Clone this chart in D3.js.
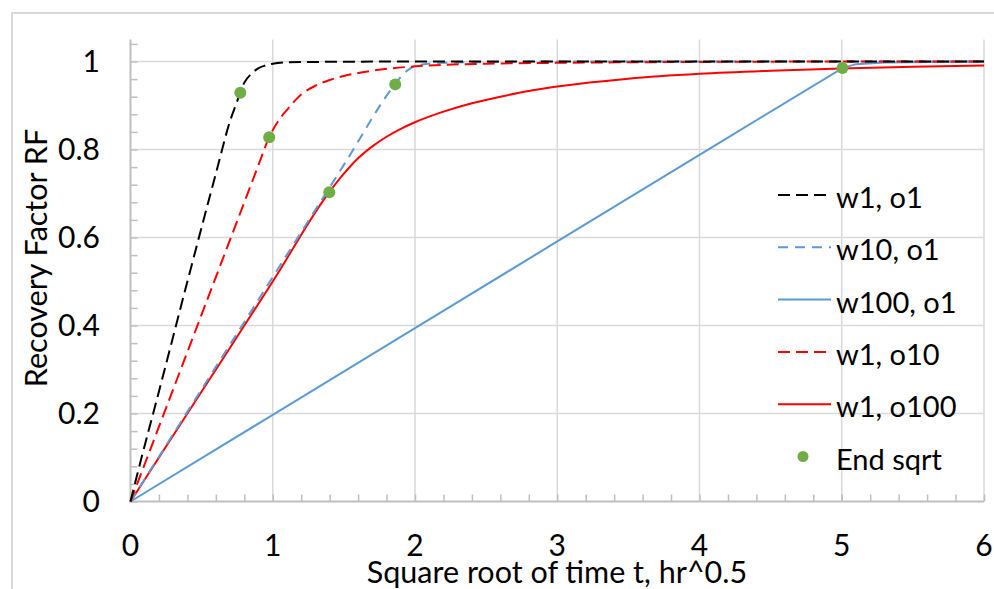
<!DOCTYPE html>
<html><head><meta charset="utf-8">
<script src="https://cdn.jsdelivr.net/npm/d3@7"></script>
<style>
html,body{margin:0;padding:0;background:#fff;}
text{font-family:Lato,"Open Sans",sans-serif;fill:#000;}
</style></head>
<body>
<svg id="chart" width="994" height="589"></svg>
<script>
// ---- data ----
const seriesNames = ["w1, o1", "w10, o1", "w100, o1", "w1, o10", "w1, o100"];
const w1o1 = [[0,0],[0.05,0.065],[0.2,0.25],[0.4,0.5],[0.6,0.745],[0.7,0.865],[0.75,0.91],[0.77,0.929],[0.8,0.952],[0.85,0.972],[0.9,0.985],[0.95,0.991],[1.0,0.995],[1.1,0.998],[1.3,0.999],[2,1],[3,1],[4,1],[5,1],[6,1]];
const w10o1 = [[0,0],[0.5,0.255],[1,0.51],[1.5,0.765],[1.861,0.949],[1.92,0.972],[1.97,0.985],[2.05,0.993],[2.2,0.997],[2.6,0.999],[3,1],[4,1],[5,1],[6,1]];
const w100o1 = [[0,0],[1,0.197],[2,0.394],[3,0.591],[4,0.788],[5.005,0.985],[5.1,0.994],[5.3,0.998],[6,1]];
const w1o10 = [[0,0],[0.2,0.17],[0.4,0.34],[0.6,0.51],[0.8,0.68],[0.9,0.765],[0.975,0.828],[1.05,0.87],[1.1,0.89],[1.2,0.925],[1.3,0.945],[1.4,0.958],[1.5,0.967],[1.7,0.979],[2.0,0.989],[2.5,0.995],[3,0.997],[4,0.999],[5,1],[6,1]];
const w1o100 = [[0,0],[0.5,0.25],[1,0.5],[1.397,0.703],[1.5,0.745],[1.6,0.78],[1.7,0.807],[1.8,0.829],[1.9,0.847],[2.0,0.862],[2.2,0.886],[2.4,0.905],[2.6,0.92],[2.8,0.933],[3.0,0.943],[3.5,0.961],[4.0,0.972],[4.5,0.979],[5.0,0.984],[5.5,0.988],[6.0,0.991]];
const endSqrtX = [0.772, 0.975, 1.397, 1.861, 5.005];
const endSqrtY = [0.929, 0.828, 0.703, 0.948, 0.985];
const xTicks = [0,1,2,3,4,5,6];
const yTicks = [0,0.2,0.4,0.6,0.8,1];
const xTitle = "Square root of time t, hr^0.5";
const yTitle = "Recovery Factor RF";

// ---- layout ----
const svg = d3.select("#chart");
const L = 130.5, R = 984, T = 39.5, B = 501.5;
const x = d3.scaleLinear().domain([0,6]).range([L,R]);
const y = d3.scaleLinear().domain([0,1.05]).range([B,T]);

// outer chart border
svg.append("rect").attr("x",12).attr("y",13).attr("width",1200).attr("height",800)
  .attr("fill","none").attr("stroke","#d9d9d9").attr("stroke-width",2);

// gridlines
const g = svg.append("g");
g.selectAll(".hg").data(yTicks.filter(d=>d>0)).join("line")
  .attr("x1",L).attr("x2",R).attr("y1",d=>y(d)).attr("y2",d=>y(d))
  .attr("stroke","#d9d9d9").attr("stroke-width",1.5);
g.selectAll(".vg").data(xTicks.filter(d=>d>0)).join("line")
  .attr("y1",T).attr("y2",B).attr("x1",d=>x(d)).attr("x2",d=>x(d))
  .attr("stroke","#d9d9d9").attr("stroke-width",1.5);

// minor ticks via d3 axes
const yMinor = d3.range(0,1.0601,0.04);
const xMinor = d3.range(0,6.001,0.2);
const yAxis = svg.append("g").attr("transform",`translate(${L},0)`)
  .call(d3.axisRight(y).tickValues(yMinor).tickSize(7).tickFormat(""));
const xAxis = svg.append("g").attr("transform",`translate(0,${B})`)
  .call(d3.axisTop(x).tickValues(xMinor).tickSize(7).tickFormat(""));
[yAxis,xAxis].forEach(a=>{
  a.selectAll("line").attr("stroke","#bfbfbf").attr("stroke-width",1.5);
  a.select(".domain").remove();
});
svg.append("line").attr("x1",L).attr("x2",L).attr("y1",T).attr("y2",B+1)
  .attr("stroke","#bfbfbf").attr("stroke-width",2);
svg.append("line").attr("x1",L-1).attr("x2",R).attr("y1",B).attr("y2",B)
  .attr("stroke","#bfbfbf").attr("stroke-width",2);

// tick labels
svg.append("g").selectAll("text").data(yTicks).join("text")
  .attr("x",100).attr("y",d=>y(d)).attr("dy","0.35em").attr("text-anchor","end")
  .attr("font-size",30).text(d=>d3.format("~g")(d));
svg.append("g").selectAll("text").data(xTicks).join("text")
  .attr("x",d=>x(d)).attr("y",545).attr("dy","0.35em").attr("text-anchor","middle")
  .attr("font-size",30).text(d=>d);

// titles
svg.append("text").attr("x",557).attr("y",583).attr("text-anchor","middle")
  .attr("font-size",30.5).text(xTitle);
svg.append("text").attr("transform","translate(47,258) rotate(-90)").attr("text-anchor","middle")
  .attr("font-size",30.5).text(yTitle);

// series
const styles = [
  {data:w1o1,  color:"#000000", dash:"12,6", w:2, curve:d3.curveMonotoneX},
  {data:w10o1, color:"#5b9bd5", dash:"10,7", w:2, curve:d3.curveMonotoneX},
  {data:w100o1,color:"#5b9bd5", dash:null,   w:2, curve:d3.curveLinear},
  {data:w1o10, color:"#ff0000", dash:"12,6", w:2, curve:d3.curveMonotoneX},
  {data:w1o100,color:"#ff0000", dash:null,   w:2, curve:d3.curveMonotoneX}
];
const plot = svg.append("g");
// draw order: solids first then dashed on top
[2,4,1,3,0].forEach(i=>{
  const s = styles[i];
  const line = d3.line().x(d=>x(d[0])).y(d=>y(d[1])).curve(s.curve);
  plot.append("path").attr("d",line(s.data)).attr("fill","none")
    .attr("stroke",s.color).attr("stroke-width",s.w)
    .attr("stroke-dasharray",s.dash);
});
plot.selectAll("circle").data(endSqrtX.map((v,i)=>[v,endSqrtY[i]])).join("circle")
  .attr("cx",d=>x(d[0])).attr("cy",d=>y(d[1])).attr("r",6).attr("fill","#70ad47");

// legend (no background)
const lg = svg.append("g");
const ly0 = 195, lstep = 52.3;
styles.forEach((s,i)=>{
  const yy = ly0 + i*lstep;
  lg.append("line").attr("x1",778).attr("x2",831).attr("y1",yy).attr("y2",yy)
    .attr("stroke",s.color).attr("stroke-width",s.w).attr("stroke-dasharray",s.dash);
  lg.append("text").attr("x",836).attr("y",yy+13).attr("font-size",29).text(seriesNames[i]);
});
const ey = ly0 + 5*lstep;
lg.append("circle").attr("cx",803).attr("cy",ey).attr("r",5.5).attr("fill","#70ad47");
lg.append("text").attr("x",836).attr("y",ey+13).attr("font-size",29).text("End sqrt");
</script>
</body></html>
